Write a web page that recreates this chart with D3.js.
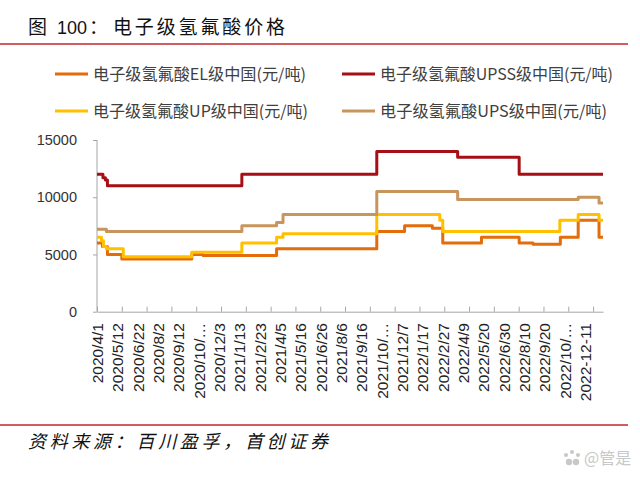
<!DOCTYPE html>
<html>
<head>
<meta charset="utf-8">
<script src="https://cdn.jsdelivr.net/npm/d3@7/dist/d3.min.js"></script>
<style>
  html, body { margin: 0; padding: 0; background: #fff; }
  svg { display: block; }
</style>
</head>
<body>
<svg id="chart" width="640" height="478"></svg>
<script>
// ---------------- DATA ----------------
const seriesNames = [
  "电子级氢氟酸EL级中国(元/吨)",
  "电子级氢氟酸UPSS级中国(元/吨)",
  "电子级氢氟酸UP级中国(元/吨)",
  "电子级氢氟酸UPS级中国(元/吨)"
];
const seriesColors = ["#E46C0A", "#A50F15", "#FFC000", "#C8955C"];

// step change dates and values (price holds until next date)
const elDates = ["2020-04-01","2020-04-12","2020-04-22","2020-05-21","2020-10-09","2020-11-01","2021-03-29","2021-10-17","2021-12-12","2022-02-06","2022-02-27","2022-05-16","2022-07-31","2022-08-28","2022-10-22","2022-11-27","2023-01-08","2023-01-16"];
const elValues = [6000,5700,5000,4600,5000,4900,5500,7000,7500,7300,6000,6500,6000,5900,6500,8000,6500,6500];

const upssDates = ["2020-04-01","2020-04-13","2020-04-18","2020-04-22","2021-01-18","2021-10-17","2022-03-29","2022-07-31","2023-01-16"];
const upssValues = [12000,11700,11500,11000,12000,14000,13500,12000,12000];

const upDates = ["2020-04-01","2020-04-10","2020-04-14","2020-04-20","2020-05-24","2020-10-09","2021-01-18","2021-03-29","2021-04-11","2021-10-17","2022-02-21","2022-02-27","2022-10-21","2022-11-27","2023-01-08","2023-01-16"];
const upValues = [6500,6200,5700,5500,4800,5200,6000,6500,6800,8500,8000,7000,8000,8500,8000,8000];

const upsDates = ["2020-04-01","2020-04-20","2021-01-18","2021-03-29","2021-04-11","2021-10-17","2022-03-29","2022-11-27","2023-01-08","2023-01-16"];
const upsValues = [7200,7000,7500,7800,8500,10500,9800,10000,9500,9500];

const xLabelDates = ["2020-04-01","2020-05-12","2020-06-22","2020-08-02","2020-09-12","2020-10-23","2020-12-03","2021-01-13","2021-02-23","2021-04-05","2021-05-16","2021-06-26","2021-08-06","2021-09-16","2021-10-27","2021-12-07","2022-01-17","2022-02-27","2022-04-09","2022-05-20","2022-06-30","2022-08-10","2022-09-20","2022-10-31","2022-12-11"];
const xLabels = ["2020/4/1","2020/5/12","2020/6/22","2020/8/2","2020/9/12","2020/10/…","2020/12/3","2021/1/13","2021/2/23","2021/4/5","2021/5/16","2021/6/26","2021/8/6","2021/9/16","2021/10/…","2021/12/7","2022/1/17","2022/2/27","2022/4/9","2022/5/20","2022/6/30","2022/8/10","2022/9/20","2022/10/…","2022-12-11"];
const yTicks = [0, 5000, 10000, 15000];
const xDomain = ["2020-04-01", "2023-01-16"];

// ---------------- DRAW ----------------
const parse = d3.timeParse("%Y-%m-%d");
const svg = d3.select("#chart");
const latin = "'Liberation Sans', Arial, sans-serif";
const cjk = "'Noto Sans CJK SC', 'Noto Sans', sans-serif";

// Title
const title = svg.append("text").attr("y", 34).attr("font-family", cjk).attr("font-size", 19).attr("fill", "#111");
title.append("tspan").attr("x", 28).text("图");
title.append("tspan").attr("x", 57).attr("font-family", latin).attr("font-size", 18).text("100");
title.append("tspan").attr("x", 89).text("：");
title.append("tspan").attr("x", 113).attr("textLength", 172).attr("lengthAdjust", "spacing").text("电子级氢氟酸价格");

svg.append("line").attr("x1", 0).attr("x2", 628).attr("y1", 44).attr("y2", 44)
  .attr("stroke", "#C0272D").attr("stroke-width", 1.6);

// Legend
const legendPos = [
  {lx: 55, ly: 74, w: 213},
  {lx: 342, ly: 74, w: 233},
  {lx: 55, ly: 111, w: 215},
  {lx: 342, ly: 111, w: 227}
];
seriesNames.forEach((n, i) => {
  const p = legendPos[i];
  svg.append("line").attr("x1", p.lx).attr("x2", p.lx + 33).attr("y1", p.ly).attr("y2", p.ly)
    .attr("stroke", seriesColors[i]).attr("stroke-width", 3);
  svg.append("text").attr("x", p.lx + 38).attr("y", p.ly + 6)
    .attr("font-family", cjk).attr("font-size", 16).attr("fill", "#404040")
    .attr("textLength", p.w).attr("lengthAdjust", "spacingAndGlyphs")
    .text(n);
});

// Scales
const x = d3.scaleTime().domain(xDomain.map(parse)).range([97, 603]);
const y = d3.scaleLinear().domain([0, 15000]).range([311.7, 140]);

// Axes
const axisColor = "#A6A6A6";
const start = parse(xDomain[0]);
const tickDates = d3.range(0, 1001, 50).map(d => d3.timeDay.offset(start, d));
const gx = svg.append("g").attr("transform", "translate(0,311.7)")
  .call(d3.axisBottom(x).tickValues(tickDates).tickFormat("").tickSizeInner(-5).tickSizeOuter(0));
gx.selectAll("path,line").attr("stroke", axisColor);

const gy = svg.append("g").attr("transform", "translate(97,0)")
  .call(d3.axisLeft(y).tickValues(yTicks).tickFormat(d3.format("d")).tickSize(4).tickPadding(16));
gy.selectAll("path,line").attr("stroke", axisColor);
gy.select(".domain").attr("d", "M0," + y(15000) + "V" + y(0));
gy.selectAll("text").attr("font-family", latin).attr("font-size", 14.5).attr("fill", "#333");

// X labels (rotated)
svg.append("g").selectAll("text").data(xLabels).join("text")
  .attr("transform", (d, i) => `translate(${x(parse(xLabelDates[i])) + 0.5},323) rotate(-90)`)
  .attr("text-anchor", "end")
  .attr("dominant-baseline", "central")
  .attr("font-family", latin).attr("font-size", 15.5).attr("fill", "#222")
  .text(d => d);

// Lines
const allSeries = [
  [elDates, elValues],
  [upssDates, upssValues],
  [upDates, upValues],
  [upsDates, upsValues]
];
const line = d3.line().x(d => x(d[0])).y(d => y(d[1])).curve(d3.curveStepAfter);
allSeries.forEach((s, i) => {
  const pts = s[0].map((d, k) => [parse(d), s[1][k]]);
  svg.append("path").datum(pts)
    .attr("d", line)
    .attr("fill", "none")
    .attr("stroke", seriesColors[i])
    .attr("stroke-width", 3)
    .attr("stroke-linejoin", "round");
});

// Footer
svg.append("line").attr("x1", 0).attr("x2", 628).attr("y1", 425).attr("y2", 425)
  .attr("stroke", "#C0272D").attr("stroke-width", 1.6);
svg.append("text").attr("x", 28).attr("y", 448)
  .attr("font-family", cjk).attr("font-size", 18).attr("font-style", "italic").attr("fill", "#111")
  .attr("textLength", 300).attr("lengthAdjust", "spacing")
  .text("资料来源：百川盈孚，首创证券");

// watermark
const wm = svg.append("g").attr("fill", "#c8c8c8");
[[566,455,2],[572,452,2],[578,455,2],[569,462,3.2],[576,462,3.2]].forEach(c =>
  wm.append("circle").attr("cx", c[0]).attr("cy", c[1]).attr("r", c[2]));
wm.append("text").attr("x", 584).attr("y", 464).attr("font-family", cjk).attr("font-size", 16).text("@管是");
</script>
</body>
</html>
